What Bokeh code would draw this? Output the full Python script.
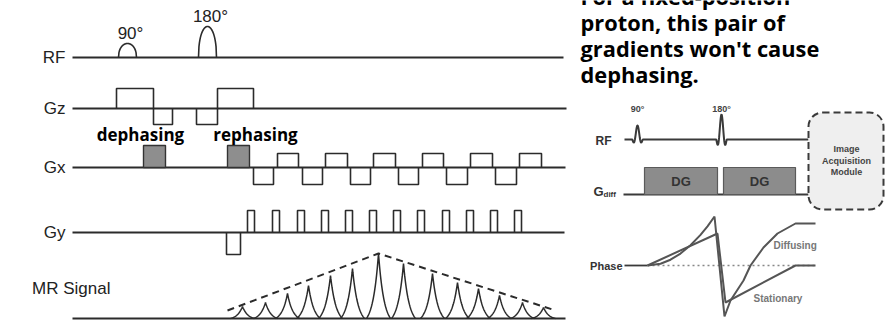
import numpy as np
from bokeh.plotting import figure
from bokeh.models import Range1d
from bokeh.core.properties import value
from bokeh.embed import file_html
from bokeh.resources import INLINE

# ---------------- data (reference pixel timeline units) ----------------
# left: pulse-sequence rows (label, baseline level)
row_labels = ["RF", "Gz", "Gx", "Gy", "MR Signal"]
row_levels = [57, 108, 167, 232, 318]
row_starts = [72, 72, 72, 72, 72]
row_ends = [563, 566, 565, 564, 565]

rf_centers = [127, 207]
rf_halfw = [9, 9]
rf_heights = [14, 31]
rf_names = ["90°", "180°"]

gz_x0 = [116, 153, 196, 217]
gz_x1 = [153, 172, 217, 253]
gz_amp = [20, -16, -16, 20]

gx_fill_x0 = [143, 227]
gx_fill_x1 = [165, 249]
gx_fill_amp = [22, 22]
gx_fill_names = ["dephasing", "rephasing"]
gx_neg_x0 = [253, 302, 350, 398, 446, 495]
gx_neg_x1 = [273, 322, 370, 418, 467, 516]
gx_pos_x0 = [277, 325, 373, 422, 470, 519]
gx_pos_x1 = [298, 347, 395, 443, 492, 541]
gx_pos_amp = 14
gx_neg_amp = -17

gy_x0 = [226, 247, 272, 297, 321, 345, 369, 393, 417, 442, 466, 490, 514]
gy_x1 = [240, 254, 279, 304, 328, 352, 376, 400, 424, 449, 473, 497, 521]
gy_amp = [-22, 22, 22, 22, 22, 22, 22, 22, 22, 22, 22, 22, 22]

echo_x = [242, 265, 287, 308, 330, 352, 378, 403, 432, 457, 478, 499, 522, 543]
echo_h = [12, 16, 25, 33, 43, 50, 65, 55, 45, 36, 30, 23, 16, 11]
env_x = [227, 378, 552]
env_h = [8, 65, 9]

# right: diffusion-weighted diagram
title_lines = ["For a fixed-position", "proton, this pair of",
               "gradients won't cause", "dephasing."]
title_base = [-4, 22, 48, 74]

r_rf_level = 139
r_rf_centers = [637, 721]
r_rf_heights = [14, 25]
r_rf_names = ["90°", "180°"]
r_g_level = 194
dg_x0 = [644, 723]
dg_x1 = [717, 795]
dg_amp = [27, 27]
phase_level = 265
stat_x = [647, 717, 725, 795, 815]
stat_y = [265, 233, 302, 265, 265]
diff_x = [647, 660, 670, 680, 690, 700, 707, 714, 724, 730, 743, 750, 763, 777, 795, 815]
diff_y = [265, 263.2, 259.2, 253.1, 244.8, 234.4, 225.8, 216, 316, 300, 280, 265, 247, 233, 223, 223]

# ---------------- figure ----------------
W, H = 892, 323
p = figure(width=W, height=H, x_range=Range1d(0, W), y_range=Range1d(H, 0),
           output_backend="svg", toolbar_location=None,
           x_axis_location=None, y_axis_location=None, min_border=0)
p.xgrid.visible = False
p.ygrid.visible = False
p.outline_line_color = None

INK = "#2b2b2b"
LW = 1.6

# baselines
p.segment(x0=row_starts, y0=row_levels, x1=row_ends, y1=row_levels, line_color=INK, line_width=1.8)
p.text(x=[65, 65, 65, 65, 110], y=[57, 108, 167, 232, 288], text=row_labels,
       text_align="right", text_baseline="middle", text_font=value("Liberation Sans"),
       text_font_size="17px", text_color="#222222")

# RF pulses (arch shapes)
xs, ys = [], []
for c, hw, h in zip(rf_centers, rf_halfw, rf_heights):
    t = np.linspace(-1, 1, 41)
    xs.append(list(c + hw * t))
    ys.append(list(row_levels[0] - h * np.abs(1 - t ** 2) ** 0.45))
p.multi_line(xs=xs, ys=ys, line_color=INK, line_width=LW)
p.text(x=[130, 210], y=[33, 16], text=rf_names, text_align="center", text_baseline="alphabetic",
       text_font=value("Liberation Sans"), text_font_size="17px", text_color="#222222")

def lobes(x0s, x1s, amps, level):
    lx, ly = [], []
    for a, b, h in zip(x0s, x1s, amps):
        lx.append([a, a, b, b])
        ly.append([level, level - h, level - h, level])
    return lx, ly

lx, ly = lobes(gz_x0, gz_x1, gz_amp, row_levels[1])
p.multi_line(xs=lx, ys=ly, line_color=INK, line_width=LW)

# Gx
p.quad(left=gx_fill_x0, right=gx_fill_x1, top=[row_levels[2] - a for a in gx_fill_amp],
       bottom=[row_levels[2]] * 2, fill_color="#8e8e8e", line_color="#333333", line_width=1.4)
lx, ly = lobes(gx_neg_x0 + gx_pos_x0, gx_neg_x1 + gx_pos_x1,
               [gx_neg_amp] * len(gx_neg_x0) + [gx_pos_amp] * len(gx_pos_x0), row_levels[2])
p.multi_line(xs=lx, ys=ly, line_color=INK, line_width=LW)
p.text(x=[140, 255], y=[134, 134], text=gx_fill_names, text_align="center", text_baseline="alphabetic",
       text_font=value("Open Sans"), text_font_size="17px", text_color="#000000", text_font_style="bold")

# Gy
lx, ly = lobes(gy_x0, gy_x1, gy_amp, row_levels[3])
p.multi_line(xs=lx, ys=ly, line_color=INK, line_width=LW)

# MR signal echoes
exs, eys = [], []
L, tau = 12.0, 5.5
for c, h in zip(echo_x, echo_h):
    d = np.linspace(-L, L, 61)
    f = (np.exp(-np.abs(d) / tau) - np.exp(-L / tau)) / (1 - np.exp(-L / tau))
    exs.append(list(c + d))
    eys.append(list(row_levels[4] - h * f))
p.multi_line(xs=exs, ys=eys, line_color=INK, line_width=1.5)
p.line(x=env_x, y=[row_levels[4] - h for h in env_h], line_color=INK, line_width=2, line_dash="7 5")

# ---------------- right diagram ----------------
p.text(x=[580] * 4, y=title_base, text=title_lines, text_align="left", text_baseline="alphabetic",
       text_font=value("Open Sans"), text_font_size="21.8px", text_font_style="bold", text_color="#000000")

GR = "#3a3a3a"
# RF line with sinc pulses
rx = np.linspace(624, 808, 900)
ry = np.full_like(rx, float(r_rf_level))
for c, h in zip(r_rf_centers, r_rf_heights):
    u = (rx - c) / 2.6
    ry = ry - h * np.sinc(u) * (np.abs(u) < 2.0)
p.line(x=rx, y=ry, line_color=GR, line_width=2)
p.text(x=r_rf_centers, y=[108, 108], text=r_rf_names, text_align="center", text_baseline="alphabetic",
       text_font=value("Liberation Sans"), text_font_size="9px", text_font_style="bold", text_color="#444444")
p.text(x=[611], y=[140], text=["RF"], text_align="right", text_baseline="middle",
       text_font=value("Liberation Sans"), text_font_size="12px", text_font_style="bold", text_color="#333333")

# Gdiff
p.segment(x0=[623], y0=[r_g_level], x1=[808], y1=[r_g_level], line_color=GR, line_width=2)
p.quad(left=dg_x0, right=dg_x1, top=[r_g_level - a for a in dg_amp], bottom=[r_g_level] * 2,
       fill_color="#8c8c8c", line_color="#5a5a5a", line_width=1.2)
p.text(x=[(a + b) / 2 for a, b in zip(dg_x0, dg_x1)], y=[181, 181], text=["DG", "DG"],
       text_align="center", text_baseline="middle", text_font=value("Liberation Sans"),
       text_font_size="13px", text_font_style="bold", text_color="#333333")
p.text(x=[593], y=[191], text=["G"], text_align="left", text_baseline="alphabetic",
       text_font=value("Liberation Sans"), text_font_size="13px", text_font_style="bold", text_color="#333333")
p.text(x=[603], y=[194], text=["diff"], text_align="left", text_baseline="alphabetic",
       text_font=value("Liberation Sans"), text_font_size="8px", text_font_style="bold", text_color="#333333")

# Image acquisition module
p.quad(left=[808], right=[883], top=[112], bottom=[209], border_radius=14,
       fill_color="#efefef", line_color="#3a3a3a", line_width=2, line_dash="7 4")
p.text(x=[846] * 3, y=[148, 160, 171], text=["Image", "Acquisition", "Module"],
       text_align="center", text_baseline="middle", text_font=value("Liberation Sans"),
       text_font_size="9px", text_font_style="bold", text_color="#444444")

# Phase plot
p.text(x=[622], y=[265], text=["Phase"], text_align="right", text_baseline="middle",
       text_font=value("Liberation Sans"), text_font_size="11px", text_font_style="bold", text_color="#333333")
p.segment(x0=[624], y0=[phase_level], x1=[647], y1=[phase_level], line_color=GR, line_width=1.8)
p.segment(x0=[647], y0=[phase_level], x1=[815], y1=[phase_level], line_color="#888888",
          line_width=1.3, line_dash="2 3")
p.line(x=stat_x, y=stat_y, line_color="#555555", line_width=2)
p.line(x=diff_x, y=diff_y, line_color="#555555", line_width=2)
p.text(x=[773, 753], y=[245, 298], text=["Diffusing", "Stationary"], text_align="left",
       text_baseline="middle", text_font=value("Liberation Sans"), text_font_size="10px",
       text_font_style="bold", text_color="#777777")

open("out.html", "w").write(file_html(p, INLINE))
